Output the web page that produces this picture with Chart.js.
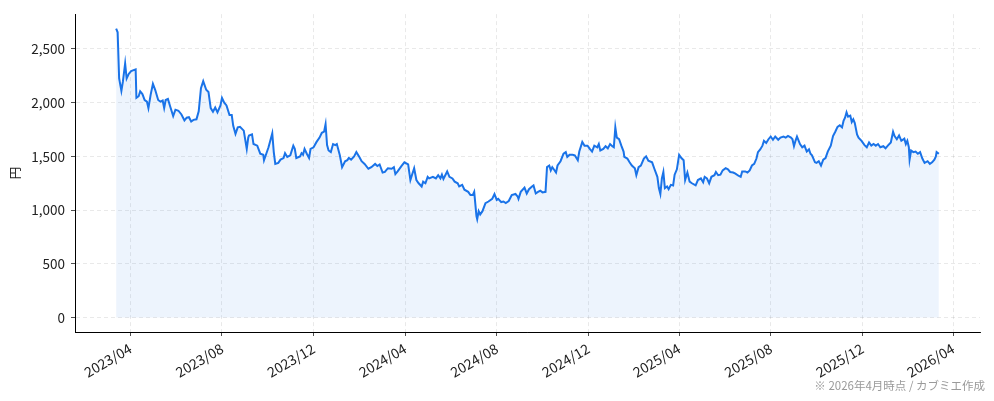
<!DOCTYPE html>
<html>
<head>
<meta charset="utf-8">
<script src="https://cdn.jsdelivr.net/npm/chart.js@4.4.1/dist/chart.umd.min.js"></script>
<style>
  html, body { margin: 0; background: #fff; }
</style>
</head>
<body>
<canvas id="priceChart" width="994" height="401"></canvas>
<script>
// closing prices (円)
const dates2023 = ['2023-03-13','2023-03-15','2023-03-17','2023-03-20','2023-03-22','2023-03-25','2023-03-27','2023-03-30',
  '2023-04-02','2023-04-08','2023-04-09','2023-04-12','2023-04-14','2023-04-17','2023-04-20','2023-04-23','2023-04-25','2023-04-28',
  '2023-05-01','2023-05-04','2023-05-08','2023-05-11','2023-05-14','2023-05-16','2023-05-18','2023-05-21','2023-05-24','2023-05-28','2023-05-31',
  '2023-06-04','2023-06-08','2023-06-12','2023-06-15','2023-06-18','2023-06-21','2023-06-24','2023-06-28',
  '2023-07-01','2023-07-04','2023-07-07','2023-07-11','2023-07-14','2023-07-17','2023-07-20','2023-07-23','2023-07-26','2023-07-30',
  '2023-08-01','2023-08-04','2023-08-07','2023-08-11','2023-08-14','2023-08-16','2023-08-19','2023-08-22','2023-08-25','2023-08-30',
  '2023-09-03','2023-09-05','2023-09-06','2023-09-10','2023-09-12','2023-09-17','2023-09-21','2023-09-25','2023-09-26','2023-09-29',
  '2023-10-02','2023-10-07','2023-10-09','2023-10-11','2023-10-15','2023-10-18','2023-10-22','2023-10-24','2023-10-27','2023-10-31',
  '2023-11-04','2023-11-06','2023-11-08','2023-11-13','2023-11-15','2023-11-17','2023-11-19','2023-11-22','2023-11-25','2023-11-27',
  '2023-12-01','2023-12-05','2023-12-09','2023-12-12','2023-12-15','2023-12-17','2023-12-19','2023-12-21','2023-12-24','2023-12-27','2023-12-30'];
const prices2023 = [2690,2655,2225,2110,2195,2365,2225,2270,
  2295,2310,2045,2060,2105,2080,2025,2010,1950,2075,
  2175,2120,2025,2010,2020,1950,2025,2035,1965,1875,1935,
  1925,1890,1835,1860,1865,1825,1840,1845,
  1920,2135,2200,2120,2100,1950,1915,1955,1910,1975,
  2045,2000,1975,1885,1885,1785,1710,1770,1775,1740,
  1570,1675,1695,1705,1615,1600,1525,1515,1465,1525,
  1585,1715,1540,1430,1440,1470,1485,1530,1495,1510,
  1600,1570,1485,1500,1530,1515,1570,1525,1485,1570,
  1585,1635,1675,1720,1730,1800,1605,1555,1540,1615,1605];

const dates2024 = ['2024-01-01','2024-01-05','2024-01-08','2024-01-12','2024-01-15','2024-01-17','2024-01-20','2024-01-24','2024-01-27','2024-01-31',
  '2024-02-03','2024-02-07','2024-02-12','2024-02-16','2024-02-21','2024-02-24','2024-02-27',
  '2024-03-02','2024-03-05','2024-03-09','2024-03-14','2024-03-17','2024-03-19','2024-03-22','2024-03-27','2024-03-31',
  '2024-04-05','2024-04-08','2024-04-10','2024-04-13','2024-04-16','2024-04-19','2024-04-23','2024-04-25','2024-04-28',
  '2024-05-01','2024-05-03','2024-05-08','2024-05-12','2024-05-15','2024-05-18','2024-05-20','2024-05-22','2024-05-27','2024-05-30',
  '2024-06-03','2024-06-06','2024-06-10','2024-06-12','2024-06-16','2024-06-19','2024-06-24','2024-06-27','2024-06-30',
  '2024-07-02','2024-07-05','2024-07-06','2024-07-08','2024-07-10','2024-07-13','2024-07-17','2024-07-21','2024-07-26','2024-07-29',
  '2024-08-01','2024-08-03','2024-08-07','2024-08-10','2024-08-13','2024-08-17','2024-08-21','2024-08-26','2024-08-29','2024-08-30',
  '2024-09-02','2024-09-07','2024-09-10','2024-09-13','2024-09-17','2024-09-19','2024-09-22','2024-09-25','2024-09-28',
  '2024-10-01','2024-10-05','2024-10-07','2024-10-10','2024-10-12','2024-10-14','2024-10-16','2024-10-19','2024-10-21','2024-10-25','2024-10-29',
  '2024-11-01','2024-11-03','2024-11-06','2024-11-10','2024-11-13','2024-11-17','2024-11-19','2024-11-23','2024-11-26','2024-11-30',
  '2024-12-03','2024-12-06','2024-12-09','2024-12-13','2024-12-15','2024-12-17','2024-12-21','2024-12-24','2024-12-27','2024-12-30'];
const prices2024 = [1615,1510,1400,1455,1465,1485,1470,1500,1540,1495,
  1455,1430,1385,1400,1430,1410,1425,
  1350,1355,1390,1385,1400,1335,1360,1410,1445,
  1425,1280,1325,1390,1280,1250,1220,1265,1250,
  1310,1295,1310,1295,1325,1295,1330,1290,1360,1310,
  1295,1265,1250,1220,1235,1190,1170,1140,1140,
  1170,945,915,990,960,990,1065,1080,1105,1150,
  1095,1105,1075,1080,1065,1085,1140,1150,1125,1105,
  1170,1210,1155,1195,1220,1230,1155,1170,1180,
  1165,1170,1400,1415,1370,1400,1380,1350,1415,1455,1525,
  1540,1495,1515,1515,1510,1465,1545,1635,1600,1600,
  1570,1545,1600,1585,1615,1555,1570,1595,1575,1615];

const dates2025 = ['2025-01-02','2025-01-04','2025-01-06','2025-01-08','2025-01-11','2025-01-14','2025-01-17','2025-01-18','2025-01-22','2025-01-25','2025-01-28',
  '2025-02-01','2025-02-03','2025-02-06','2025-02-09','2025-02-13','2025-02-16','2025-02-19','2025-02-24','2025-02-27',
  '2025-03-03','2025-03-05','2025-03-07','2025-03-09','2025-03-11','2025-03-13','2025-03-16','2025-03-18','2025-03-21','2025-03-24','2025-03-26','2025-03-29',
  '2025-04-01','2025-04-04','2025-04-07','2025-04-09','2025-04-12','2025-04-15','2025-04-18','2025-04-23','2025-04-26','2025-04-30',
  '2025-05-03','2025-05-05','2025-05-08','2025-05-11','2025-05-14','2025-05-18','2025-05-20','2025-05-23','2025-05-26','2025-05-29',
  '2025-06-02','2025-06-05','2025-06-08','2025-06-12','2025-06-15','2025-06-19','2025-06-22','2025-06-24','2025-06-28',
  '2025-07-01','2025-07-04','2025-07-07','2025-07-10','2025-07-13','2025-07-15','2025-07-18','2025-07-21','2025-07-23','2025-07-26','2025-07-29',
  '2025-08-01','2025-08-04','2025-08-07','2025-08-11','2025-08-14','2025-08-18','2025-08-21','2025-08-24','2025-08-28','2025-08-30',
  '2025-09-01','2025-09-03','2025-09-05','2025-09-09','2025-09-12','2025-09-15','2025-09-18','2025-09-21','2025-09-23','2025-09-25','2025-09-29',
  '2025-10-01','2025-10-04','2025-10-07','2025-10-10','2025-10-13','2025-10-16','2025-10-20','2025-10-23','2025-10-26','2025-10-29',
  '2025-11-01','2025-11-04','2025-11-06','2025-11-08','2025-11-10','2025-11-12','2025-11-15','2025-11-17','2025-11-19','2025-11-21','2025-11-24','2025-11-26','2025-11-30',
  '2025-12-04','2025-12-07','2025-12-10','2025-12-13','2025-12-16','2025-12-19','2025-12-22','2025-12-25','2025-12-29'];
const prices2025 = [1595,1585,1770,1675,1660,1600,1545,1495,1480,1445,1415,
  1390,1325,1400,1415,1480,1500,1460,1445,1385,
  1310,1205,1150,1295,1355,1205,1220,1195,1235,1230,1330,1380,
  1515,1485,1465,1280,1350,1265,1250,1230,1280,1295,
  1260,1310,1295,1250,1310,1325,1355,1325,1330,1370,
  1390,1380,1355,1350,1340,1320,1310,1360,1360,
  1350,1370,1415,1430,1480,1540,1565,1600,1645,1625,1660,
  1685,1655,1685,1655,1675,1685,1675,1690,1675,1660,
  1595,1645,1685,1615,1585,1600,1545,1565,1525,1510,1445,
  1440,1455,1415,1470,1485,1545,1600,1690,1730,1775,
  1790,1770,1830,1860,1910,1870,1880,1820,1845,1810,1705,1675,1645,
  1605,1585,1630,1600,1615,1600,1615,1585,1595];

const dates2026 = ['2026-01-01','2026-01-04','2026-01-08','2026-01-11','2026-01-13','2026-01-16','2026-01-19','2026-01-22','2026-01-26','2026-01-28','2026-01-30',
  '2026-02-01','2026-02-02','2026-02-04','2026-02-07','2026-02-10','2026-02-13','2026-02-16','2026-02-19','2026-02-22','2026-02-26',
  '2026-03-01','2026-03-04','2026-03-07','2026-03-09','2026-03-10','2026-03-13'];
const prices2026 = [1575,1600,1630,1730,1690,1660,1695,1645,1665,1615,1645,
  1585,1470,1555,1540,1545,1525,1540,1480,1440,1455,
  1430,1445,1470,1500,1540,1525];

const tickLabels = ['2023/04','2023/08','2023/12','2024/04','2024/08','2024/12','2025/04','2025/08','2025/12','2026/04'];
const yTicks = [0, 500, 1000, 1500, 2000, 2500];
const yTitle = '円';
const footnote = '※ 2026年4月時点 / カブミエ作成';

const FONT = "'Noto Sans CJK JP', 'Noto Sans', sans-serif";
const BLUE = '#1a73e8';

const toDay = s => Date.UTC(+s.slice(0, 4), +s.slice(5, 7) - 1, +(s.slice(8, 10) || 1)) / 86400000;

const dates = [...dates2023, ...dates2024, ...dates2025, ...dates2026];
const prices = [...prices2023, ...prices2024, ...prices2025, ...prices2026];
const points = dates.map((d, i) => ({ x: toDay(d), y: prices[i] }));

const tickDays = tickLabels.map(l => toDay(l.replace('/', '-') + '-01'));
const labelByDay = {};
tickDays.forEach((d, i) => { labelByDay[d] = tickLabels[i]; });

// matplotlib-like 5% margins
const xFirst = points[0].x, xLast = points[points.length - 1].x;
const xPad = (xLast - xFirst) * 0.05;
const yTop = Math.max(...prices);
const yPad = yTop * 0.05;

const footnotePlugin = {
  id: 'footnote',
  afterDraw(chart) {
    const c = chart.ctx;
    c.save();
    c.font = "11.5px " + FONT;
    c.fillStyle = '#9a9a9a';
    c.textAlign = 'right';
    c.textBaseline = 'alphabetic';
    c.fillText(footnote, 985, 390);
    c.restore();
  }
};

const gridOpts = {
  color: 'rgba(0,0,0,0.11)',
  lineWidth: 0.8,
  tickColor: '#222',
  tickLength: 4,
  tickBorderDash: []
};

const ctx = document.getElementById('priceChart').getContext('2d');
const priceChart = new Chart(ctx, {
  type: 'line',
  data: {
    datasets: [{
      label: '株価',
      data: points,
      borderColor: BLUE,
      borderWidth: 2,
      backgroundColor: 'rgba(26, 115, 232, 0.08)',
      fill: 'origin',
      pointRadius: 0,
      tension: 0
    }]
  },
  options: {
    responsive: false,
    animation: false,
    layout: { padding: { left: 0, right: 14, top: 10, bottom: 0 } },
    plugins: {
      legend: { display: false },
      tooltip: { enabled: false }
    },
    scales: {
      x: {
        type: 'linear',
        min: xFirst - xPad,
        max: xLast + xPad,
        afterBuildTicks: s => { s.ticks = tickDays.map(v => ({ value: v })); },
        afterFit: s => { s.height = 69; },
        border: { display: true, color: '#000', width: 1, dash: [4, 3] },
        grid: gridOpts,
        ticks: {
          autoSkip: false,
          minRotation: 30,
          maxRotation: 30,
          padding: 4,
          color: '#222',
          font: { family: FONT, size: 14 },
          callback: v => labelByDay[v] || ''
        }
      },
      y: {
        min: -yPad,
        max: yTop + yPad,
        afterBuildTicks: s => { s.ticks = yTicks.map(v => ({ value: v })); },
        afterFit: s => { s.width = 75; },
        border: { display: true, color: '#000', width: 1, dash: [4, 3] },
        grid: gridOpts,
        title: {
          display: true,
          text: yTitle,
          color: '#222',
          font: { family: FONT, size: 12.5 },
          padding: { top: 8, bottom: 0 }
        },
        ticks: {
          padding: 6,
          color: '#222',
          font: { family: FONT, size: 13.5 },
          callback: v => v.toLocaleString('en-US')
        }
      }
    }
  },
  plugins: [footnotePlugin]
});
</script>
</body>
</html>
